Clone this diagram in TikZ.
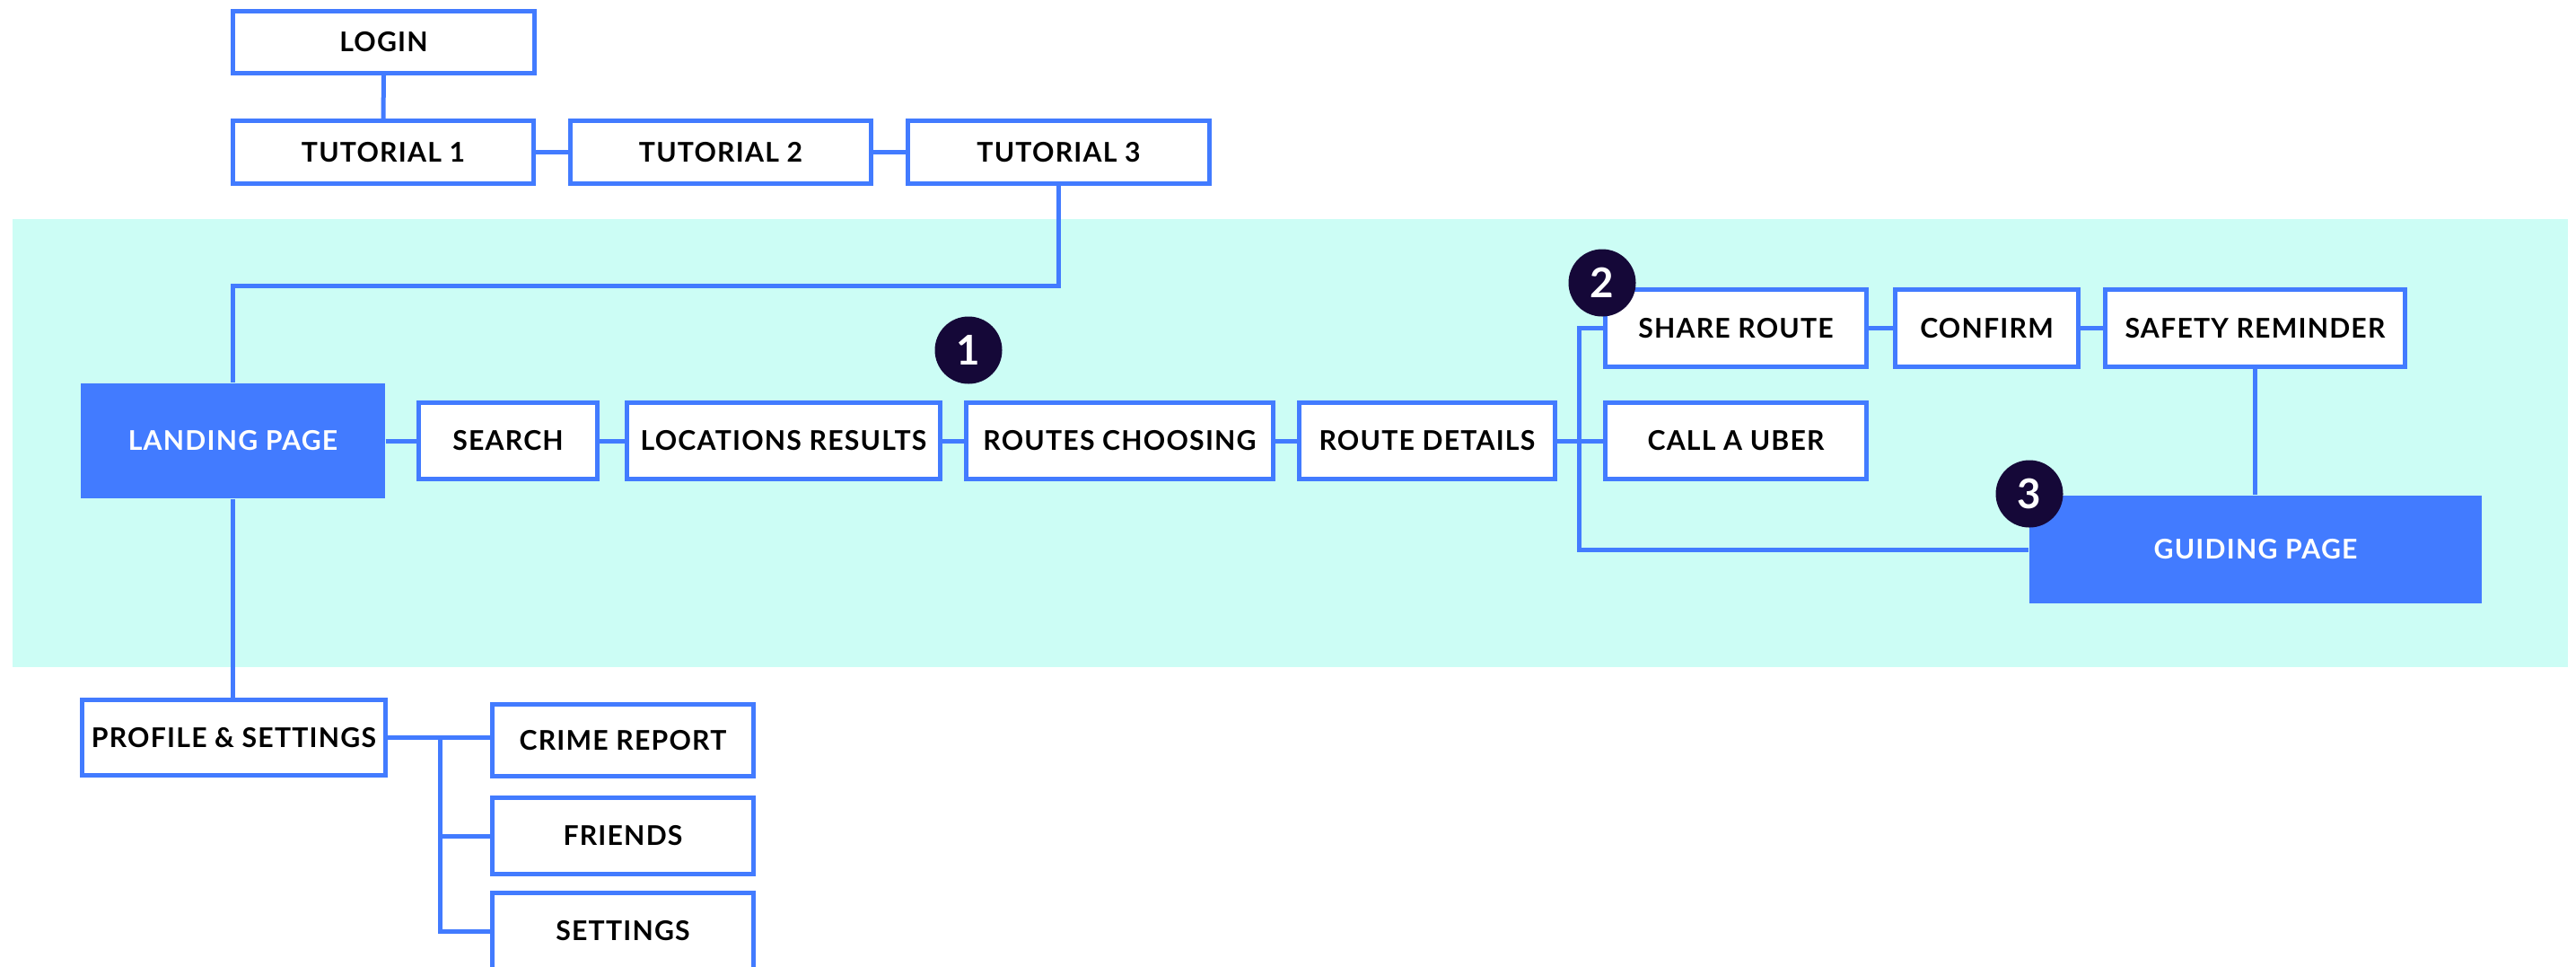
\documentclass[tikz,border=0pt]{standalone}
\usepackage{fontspec}
\setmainfont{Lato}
\newfontfamily\labelfont[LetterSpace=4]{Lato}
\newfontfamily\badgefamily{Lato}
\usetikzlibrary{backgrounds}
\definecolor{myblue}{HTML}{427BFF}
\definecolor{bandcyan}{HTML}{CCFDF5}
\definecolor{navy}{HTML}{150838}
\begin{document}
\begin{tikzpicture}[
  box/.style={draw=myblue, line width=0.05cm, fill=white, inner sep=0pt, text=black,
    font=\labelfont\bfseries\fontsize{8.6pt}{10pt}\selectfont},
  filled/.style={fill=myblue, inner sep=0pt, text=white,
    font=\labelfont\bfseries\fontsize{8.6pt}{10pt}\selectfont},
  badge/.style={circle, fill=navy, minimum size=0.75cm, inner sep=0pt, text=white,
    font=\badgefamily\bfseries\fontsize{13pt}{15pt}\selectfont},
  conn/.style={draw=myblue, line width=0.05cm}
]
\clip (0,0) rectangle (28.70,-10.76);
\useasboundingbox (0,0) rectangle (28.70,-10.76);

% top chain
\node[box, minimum width=3.36cm, minimum height=0.69cm] (login) at (4.275,-0.47) {LOGIN};
\node[box, minimum width=3.35cm, minimum height=0.70cm] (t1) at (4.27,-1.695) {TUTORIAL 1};
\node[box, minimum width=3.35cm, minimum height=0.70cm] (t2) at (8.03,-1.695) {TUTORIAL 2};
\node[box, minimum width=3.36cm, minimum height=0.70cm] (t3) at (11.795,-1.695) {TUTORIAL 3};

% main row
\node[filled, minimum width=3.39cm, minimum height=1.28cm] (landing) at (2.595,-4.91) {LANDING PAGE};
\node[box, minimum width=1.99cm, minimum height=0.85cm] (search) at (5.66,-4.91) {SEARCH};
\node[box, minimum width=3.49cm, minimum height=0.85cm] (loc) at (8.73,-4.91) {LOCATIONS RESULTS};
\node[box, minimum width=3.42cm, minimum height=0.85cm] (routes) at (12.475,-4.91) {ROUTES CHOOSING};
\node[box, minimum width=2.85cm, minimum height=0.85cm] (rd) at (15.90,-4.91) {ROUTE DETAILS};

% right part
\node[box, minimum width=2.91cm, minimum height=0.86cm] (sr) at (19.34,-3.655) {SHARE ROUTE};
\node[box, minimum width=2.04cm, minimum height=0.86cm] (confirm) at (22.135,-3.655) {CONFIRM};
\node[box, minimum width=3.34cm, minimum height=0.86cm] (safety) at (25.125,-3.655) {SAFETY REMINDER};
\node[box, minimum width=2.91cm, minimum height=0.85cm] (uber) at (19.34,-4.91) {CALL A UBER};
\node[filled, minimum width=5.04cm, minimum height=1.20cm] (gp) at (25.13,-6.12) {GUIDING PAGE};

% bottom tree
\node[box, minimum width=3.38cm, minimum height=0.84cm] (ps) at (2.605,-8.215) {PROFILE \& SETTINGS};
\node[box, minimum width=2.91cm, minimum height=0.80cm] (cr) at (6.94,-8.245) {CRIME REPORT};
\node[box, minimum width=2.91cm, minimum height=0.85cm] (fr) at (6.94,-9.31) {FRIENDS};
\node[box, minimum width=2.91cm, minimum height=0.85cm] (st) at (6.94,-10.37) {SETTINGS};

% badges
\node[badge] (b1) at (10.79,-3.90) {1};
\node[badge] (b2) at (17.85,-3.15) {2};
\node[badge] (b3) at (22.61,-5.50) {3};

\coordinate (j1) at (0,-3.18);
\coordinate (bus) at (17.59,0);
\coordinate (tr) at (4.90,0);

\begin{pgfonlayer}{background}
\fill[bandcyan] (0.14,-2.44) rectangle (28.61,-7.43);
\draw[conn] (login.south) -- (t1.north);
\draw[conn] (t1.east) -- (t2.west);
\draw[conn] (t2.east) -- (t3.west);
\draw[conn] (t3.south) -- (t3.south |- j1) -| (landing.north);
\draw[conn] (landing.east) -- (search.west);
\draw[conn] (search.east) -- (loc.west);
\draw[conn] (loc.east) -- (routes.west);
\draw[conn] (routes.east) -- (rd.west);
\draw[conn] (rd.east) -- (uber.west);
\draw[conn] (sr.west) -- (sr.west -| bus) |- (gp.west);
\draw[conn] (sr.east) -- (confirm.west);
\draw[conn] (confirm.east) -- (safety.west);
\draw[conn] (safety.south) -- (safety.south |- gp.north);
\draw[conn] (landing.south) -- (landing.south |- ps.north);
\draw[conn] (ps.east) -- (ps.east -| cr.west);
\draw[conn] (ps.east -| tr) |- (fr.west);
\draw[conn] (ps.east -| tr) |- (st.west);
\end{pgfonlayer}
\end{tikzpicture}
\end{document}
